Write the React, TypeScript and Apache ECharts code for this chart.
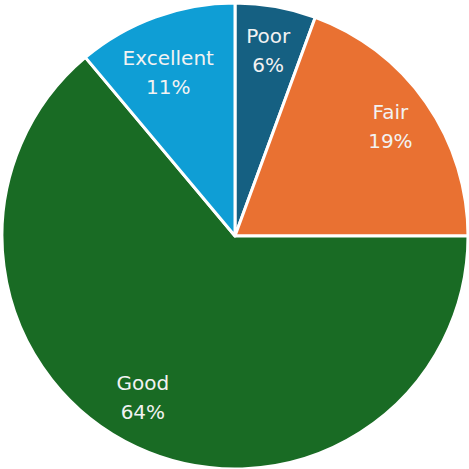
import React, { useEffect, useRef } from "react";
import * as echarts from "echarts";

const categories = ["Poor", "Fair", "Good", "Excellent"];
const values = [5.6, 19.4, 63.9, 11.1];
const colors = ["#156082", "#E97132", "#196B24", "#0F9ED5"];
const labelOffsets = [[0, 1], [0, -1], [-12, -10], [-2, 15]];

export default function App() {
  const ref = useRef<HTMLDivElement>(null);
  useEffect(() => {
    const chart = echarts.init(ref.current!, null, { renderer: "svg" });
    const data = categories.map((name, i) => ({ name, value: values[i], itemStyle: { color: colors[i] } }));
    chart.setOption({
      animation: false,
      series: [
        {
          type: "pie",
          center: [235, 236],
          radius: [0, 233],
          startAngle: 90,
          clockwise: true,
          avoidLabelOverlap: false,
          itemStyle: { borderColor: "#ffffff", borderWidth: 3 },
          label: { show: false },
          labelLine: { show: false },
          data,
        },
        {
          type: "pie",
          center: [235, 236],
          radius: [140, 233],
          startAngle: 90,
          clockwise: true,
          silent: true,
          avoidLabelOverlap: false,
          itemStyle: { color: "transparent", borderWidth: 0 },
          label: {
            show: true,
            position: "inside",
            color: "#f2f2f2",
            fontFamily: "DejaVu Sans",
            fontSize: 20,
            lineHeight: 29,
            formatter: (p: any) => `${p.name}\n${Math.round(p.value)}%`,
          },
          labelLine: { show: false },
          data: categories.map((name, i) => ({
            name,
            value: values[i],
            itemStyle: { color: "transparent" },
            label: { offset: labelOffsets[i] },
          })),
        },
      ],
    });
    return () => chart.dispose();
  }, []);
  return <div ref={ref} style={{ position: "fixed", left: 0, top: 0, width: 469, height: 469, background: "#fff" }} />;
}
